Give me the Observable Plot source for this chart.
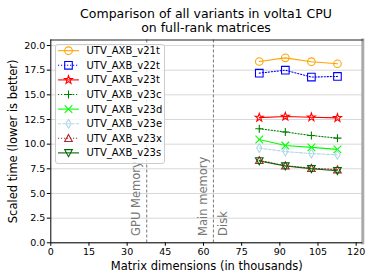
<!DOCTYPE html>
<html><head><meta charset="utf-8">
<script src="https://cdn.jsdelivr.net/npm/d3@7"></script>
<script src="https://cdn.jsdelivr.net/npm/@observablehq/plot@0.6"></script>
<style>
body{margin:0;background:#fff;font-family:"DejaVu Sans",sans-serif;}
#wrap{position:relative;width:374px;height:280px;}
#title{position:absolute;left:40px;width:332px;top:7px;text-align:center;font-size:12.5px;line-height:14px;color:#000;}
#legend{position:absolute;left:55px;top:44px;}
</style></head>
<body><div id="wrap"><div id="title">Comparison of all variants in volta1 CPU<br>on full-rank matrices</div><div id="chart"></div><svg id="legend" width="110" height="120"></svg></div>
<script>
const dims = [81.92, 92.16, 102.4, 112.64];
const seriesNames = ["UTV_AXB_v21t","UTV_AXB_v22t","UTV_AXB_v23t","UTV_AXB_v23c","UTV_AXB_v23d","UTV_AXB_v23e","UTV_AXB_v23x","UTV_AXB_v23s"];
const v21t = [18.38, 18.75, 18.36, 18.15];
const v22t = [17.20, 17.50, 16.80, 16.87];
const v23t = [12.69, 12.80, 12.73, 12.66];
const v23c = [11.56, 11.23, 10.88, 10.61];
const v23d = [10.47, 9.86, 9.67, 9.47];
const v23e = [9.60, 9.25, 9.05, 8.92];
const v23x = [8.36, 7.82, 7.57, 7.42];
const v23s = [8.30, 7.78, 7.50, 7.30];
const memLines = [37.7, 63.9];
const memLabelsLeft = [{x:37.7, text:"GPU Memory"},{x:63.9, text:"Main memory"}];
const memLabelsRight = [{x:63.9, text:"Disk"}];
const xTicks = [0,15,30,45,60,75,90,105,120];
const yTicks = [0,2.5,5,7.5,10,12.5,15,17.5,20];
const xLabel = "Matrix dimensions (in thousands)";
const yLabel = "Scaled time (lower is better)";

const sym = {
  circle:{draw(c,s){const r=Math.sqrt(s/Math.PI);c.moveTo(r,0);c.arc(0,0,r,0,2*Math.PI);c.closePath();}},
  square:{draw(c,s){const r=Math.sqrt(s/Math.PI);c.rect(-r,-r,2*r,2*r);}},
  star:{draw(c,s){const R=Math.sqrt(s/Math.PI),ri=R*0.4;for(let i=0;i<10;i++){const a=-Math.PI/2+i*Math.PI/5,rr=i%2?ri:R;const x=rr*Math.cos(a),y=rr*Math.sin(a);i?c.lineTo(x,y):c.moveTo(x,y);}c.closePath();}},
  plus:{draw(c,s){const r=Math.sqrt(s/Math.PI);c.moveTo(-r,0);c.lineTo(r,0);c.moveTo(0,-r);c.lineTo(0,r);}},
  times:{draw(c,s){const r=Math.sqrt(s/Math.PI);c.moveTo(-r,-r);c.lineTo(r,r);c.moveTo(-r,r);c.lineTo(r,-r);}},
  thin_diamond:{draw(c,s){const r=Math.sqrt(s/Math.PI);c.moveTo(0,-r);c.lineTo(0.6*r,0);c.lineTo(0,r);c.lineTo(-0.6*r,0);c.closePath();}},
  tri_up:{draw(c,s){const r=Math.sqrt(s/Math.PI);c.moveTo(0,-r);c.lineTo(r,r*0.85);c.lineTo(-r,r*0.85);c.closePath();}},
  tri_down:{draw(c,s){const r=Math.sqrt(s/Math.PI);c.moveTo(0,r);c.lineTo(r,-r*0.85);c.lineTo(-r,-r*0.85);c.closePath();}}
};
const styles = [
  {vals:v21t, color:"#FFA500", symbol:sym.circle, r:3.8, dash:null},
  {vals:v22t, color:"#0000FF", symbol:sym.square, r:3.8, dash:"1.2,1.8"},
  {vals:v23t, color:"#FF0000", symbol:sym.star, r:4.2, dash:null},
  {vals:v23c, color:"#008000", symbol:sym.plus, r:4, dash:"1.2,1.8"},
  {vals:v23d, color:"#00FF00", symbol:sym.times, r:3.8, dash:null},
  {vals:v23e, color:"#ADD8E6", symbol:sym.thin_diamond, r:4.4, dash:"3,1.5"},
  {vals:v23x, color:"#A52A2A", symbol:sym.tri_up, r:3.8, dash:"1.2,1.8"},
  {vals:v23s, color:"#006400", symbol:sym.tri_down, r:3.8, dash:null}
];
const rows = styles.map((s,i)=>s.vals.map((v,j)=>({series:seriesNames[i], x:dims[j], y:v})));

const marks = [
  Plot.gridY(yTicks, {stroke:"#d8d8d8", strokeOpacity:1, strokeWidth:1}),
  Plot.ruleX(memLines, {stroke:"#777", strokeDasharray:"3,2", strokeWidth:1}),
  Plot.text(memLabelsLeft, {x:"x", y:0.7, text:"text", rotate:-90, textAnchor:"start", dx:-10.5, fill:"#777", fontSize:11.5, fontFamily:"DejaVu Sans"}),
  Plot.text(memLabelsRight, {x:"x", y:0.7, text:"text", rotate:-90, textAnchor:"start", dx:10, fill:"#777", fontSize:11.5, fontFamily:"DejaVu Sans"})
];
styles.forEach((s,i)=>{
  marks.push(Plot.line(rows[i], {x:"x", y:"y", stroke:s.color, strokeWidth:1.1, strokeDasharray:s.dash||undefined}));
});
styles.forEach((s,i)=>{
  marks.push(Plot.dot(rows[i], {x:"x", y:"y", symbol:s.symbol, r:s.r, stroke:s.color, fill:"none", strokeWidth:1.1}));
});
marks.push(Plot.frame({anchor:"right", stroke:"#aaa", strokeWidth:3}));
marks.push(Plot.frame({anchor:"top", stroke:"#222", strokeWidth:1}));
marks.push(Plot.ruleY([0], {stroke:"#000", strokeWidth:1}));
marks.push(Plot.ruleX([0], {stroke:"#000", strokeWidth:1}));
marks.push(Plot.axisX(xTicks, {tickSize:3.5, tickPadding:1.5, fontSize:9.5, label:null}));
marks.push(Plot.axisY(yTicks, {tickSize:3.5, tickPadding:2, fontSize:9.5, tickFormat:d=>d.toFixed(1), label:null}));
marks.push(Plot.text([xLabel], {frameAnchor:"bottom", text:d=>d, dy:27.5, fontSize:11.5, fontFamily:"DejaVu Sans", fill:"#000"}));
marks.push(Plot.text([yLabel], {frameAnchor:"left", text:d=>d, rotate:-90, textAnchor:"middle", lineAnchor:"middle", dx:-37, fontSize:11.5, fontFamily:"DejaVu Sans", fill:"#000"}));

const chart = Plot.plot({
  width:374, height:280,
  marginLeft:50.3, marginRight:11.7, marginTop:39.5, marginBottom:37.7,
  style:{fontFamily:"DejaVu Sans", fontSize:"9.5px", color:"#000", background:"transparent", overflow:"visible"},
  x:{domain:[0,122.6]},
  y:{domain:[0,20.56]},
  marks
});
document.getElementById("chart").appendChild(chart);

// legend
const lg = d3.select("#legend");
lg.append("rect").attr("x",0.5).attr("y",0.5).attr("width",109).attr("height",119).attr("rx",2.5)
  .attr("fill","#fff").attr("fill-opacity",0.8).attr("stroke","#ccc");
styles.forEach((s,i)=>{
  const cy = 6.7 + i*14.6;
  const g = lg.append("g");
  g.append("line").attr("x1",3).attr("x2",24).attr("y1",cy).attr("y2",cy)
    .attr("stroke",s.color).attr("stroke-width",1.1).attr("stroke-dasharray",s.dash);
  const p = d3.path(); s.symbol.draw(p, Math.PI*s.r*s.r);
  g.append("path").attr("d",p.toString()).attr("transform",`translate(13.5,${cy})`)
    .attr("fill","none").attr("stroke",s.color).attr("stroke-width",1.1);
  g.append("text").attr("x",31.5).attr("y",cy).attr("dy","0.35em").attr("font-size","10px")
    .attr("font-family","DejaVu Sans").text(seriesNames[i]);
});
</script></body></html>
